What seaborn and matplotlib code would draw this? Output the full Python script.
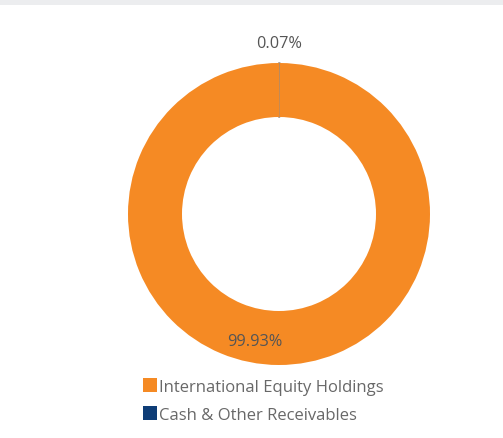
import matplotlib
matplotlib.use("Agg")
import matplotlib.pyplot as plt
from matplotlib.lines import Line2D
from matplotlib.patches import Rectangle
import seaborn as sns

# Portfolio allocation
categories = ["Cash & Other Receivables", "International Equity Holdings"]
values = [0.07, 99.93]
colors = ["#0E3D77", "#F58A24"]
legend_order = ["International Equity Holdings", "Cash & Other Receivables"]

sns.set_theme(style="white")
plt.rcParams["font.family"] = ["Open Sans", "DejaVu Sans"]

W, H = 503, 439
fig = plt.figure(figsize=(W / 100, H / 100), dpi=100)
fig.patch.set_facecolor("white")

# light header band across the top
fig.add_artist(Rectangle((0, 1 - 6 / H), 1, 6 / H, transform=fig.transFigure,
                         facecolor="#ECEDEF", edgecolor="none"))

cx, cy, r = 279, 215, 151
ax = fig.add_axes([(cx - r) / W, 1 - (cy + r) / H, 2 * r / W, 2 * r / H])
wedges, _ = ax.pie(values, colors=colors, startangle=90, counterclock=False,
                   radius=1.0, wedgeprops=dict(width=54 / 151, linewidth=0))
wedges[0].set_edgecolor("#948A84")
wedges[0].set_linewidth(1.1)
ax.set_xlim(-1, 1)
ax.set_ylim(-1, 1)
ax.set_aspect("equal")
ax.axis("off")

label_pos = {"Cash & Other Receivables": (0.0, 1.132),
             "International Equity Holdings": (-0.159, -0.841)}
for cat, val in zip(categories, values):
    x, y = label_pos[cat]
    ax.text(x, y, f"{val:.2f}%", ha="center", va="center", fontsize=11.7,
            color="#555555", clip_on=False)

handles = [Line2D([0], [0], marker="s", linestyle="none", markersize=9.5,
                  markerfacecolor=colors[categories.index(c)], markeredgewidth=0)
           for c in legend_order]
leg = fig.legend(handles, legend_order, loc="upper left",
                 bbox_to_anchor=(137 / W, 1 - 373 / H), frameon=False,
                 handlelength=0.8, handletextpad=0.12, labelspacing=0.72,
                 fontsize=12.0, labelcolor="#686868", borderaxespad=0)

fig.savefig("out.png", dpi=100)
